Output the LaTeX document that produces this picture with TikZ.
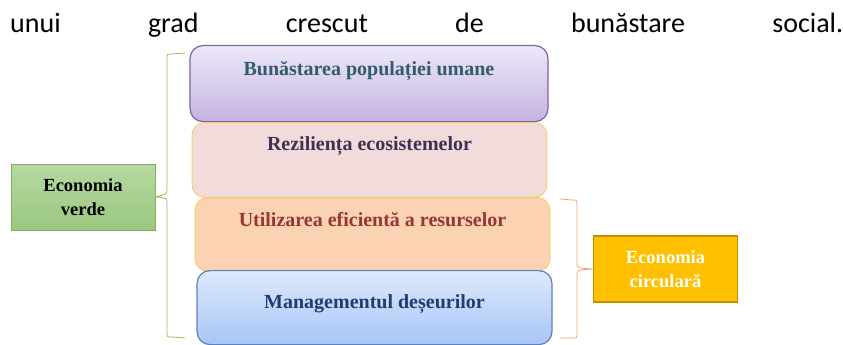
\documentclass[tikz,border=0pt]{standalone}
\usepackage{fontspec}
\setmainfont{Liberation Serif}
\newfontfamily\introfont{Carlito}
\definecolor{welfareline}{HTML}{8064A2}
\definecolor{welfaretop}{HTML}{EEE8F7}
\definecolor{welfarebot}{HTML}{C4B3E3}
\definecolor{welfaretext}{HTML}{2F5D6E}
\definecolor{resilfill}{HTML}{F2DCDB}
\definecolor{resilline}{HTML}{F9CB5E}
\definecolor{resiltext}{HTML}{3F3151}
\definecolor{efffill}{HTML}{FBD3B3}
\definecolor{effline}{HTML}{F9C850}
\definecolor{efftext}{HTML}{953735}
\definecolor{wastetop}{HTML}{DEE9FC}
\definecolor{wastebot}{HTML}{A8C5F6}
\definecolor{wasteline}{HTML}{5B82BF}
\definecolor{wastetext}{HTML}{1F3D73}
\definecolor{greentop}{HTML}{B6D9A2}
\definecolor{greenbot}{HTML}{9BC780}
\definecolor{greenline}{HTML}{7EB062}
\definecolor{circfill}{HTML}{FFC000}
\definecolor{circline}{HTML}{BF9000}
\definecolor{gbracecol}{HTML}{9BBB59}
\definecolor{cbracecol}{HTML}{F2A478}
\begin{document}
\begin{tikzpicture}[x=1pt,y=-1pt,
  tier/.style={anchor=north,rounded corners=13pt,inner xsep=0pt,inner ysep=0pt,
    minimum width=355pt,align=center,font=\fontsize{20}{24}\selectfont\bfseries},
  side/.style={minimum width=144pt,minimum height=66pt,align=center,
    font=\fontsize{18.5}{24}\selectfont\bfseries},
  gbrace/.style={draw=gbracecol,line width=0.8pt},
  cbrace/.style={draw=cbracecol,line width=0.8pt}]
\useasboundingbox (0,0) rectangle (843,345);

\node [anchor=base west,inner sep=0pt] (intro) at (10,33)
  {\introfont\fontsize{28}{32}\selectfont\hbox to 833pt{unui\hfill grad\hfill crescut\hfill de\hfill bunăstare\hfill social.}};

\node [tier,minimum width=358pt,top color=welfaretop,bottom color=welfarebot,draw=welfareline,
  line width=1.2pt,text=welfaretext,text height=30pt,text depth=46pt] (welfare) at (369,45)
  {Bunăstarea populației umane};
\node [tier,fill=resilfill,draw=resilline,line width=0.8pt,text=resiltext,
  text height=28pt,text depth=47pt] (resilience) at (369.5,122)
  {Reziliența ecosistemelor};
\node [tier,fill=efffill,draw=effline,line width=0.8pt,text=efftext,
  text height=29pt,text depth=45pt] (efficiency) at (372.5,197)
  {Utilizarea eficientă a resurselor};
\node [tier,top color=wastetop,bottom color=wastebot,draw=wasteline,line width=1.2pt,
  text=wastetext,text height=38pt,text depth=36pt] (waste) at (374.5,270)
  {Managementul deșeurilor};

\node [side,top color=greentop,bottom color=greenbot,draw=greenline,line width=1pt] (green) at (83,197)
  {Economia\\verde};
\node [side,fill=circfill,draw=circline,line width=1.5pt,text=white] (circular) at (665.5,269)
  {Economia\\circulară};

\coordinate (gtop) at (185,53);
\coordinate (gbot) at (185,338);
\draw [gbrace] (gtop) -- (172,54) .. controls (167,54) .. (167,59) -- (167,189)
  .. controls (167,194) .. (green.east) .. controls (167,198) .. (167,203) -- (167,332)
  .. controls (167,337) .. (172,337) -- (gbot);

\coordinate (ctop) at (560,199);
\coordinate (cbot) at (560,338);
\draw [cbrace] (ctop) -- (572,200) .. controls (577,200) .. (577,205) -- (577,263)
  .. controls (577,268) .. (circular.west) .. controls (577,270) .. (577,275) -- (577,333)
  .. controls (577,338) .. (572,338) -- (cbot);

\end{tikzpicture}
\end{document}
